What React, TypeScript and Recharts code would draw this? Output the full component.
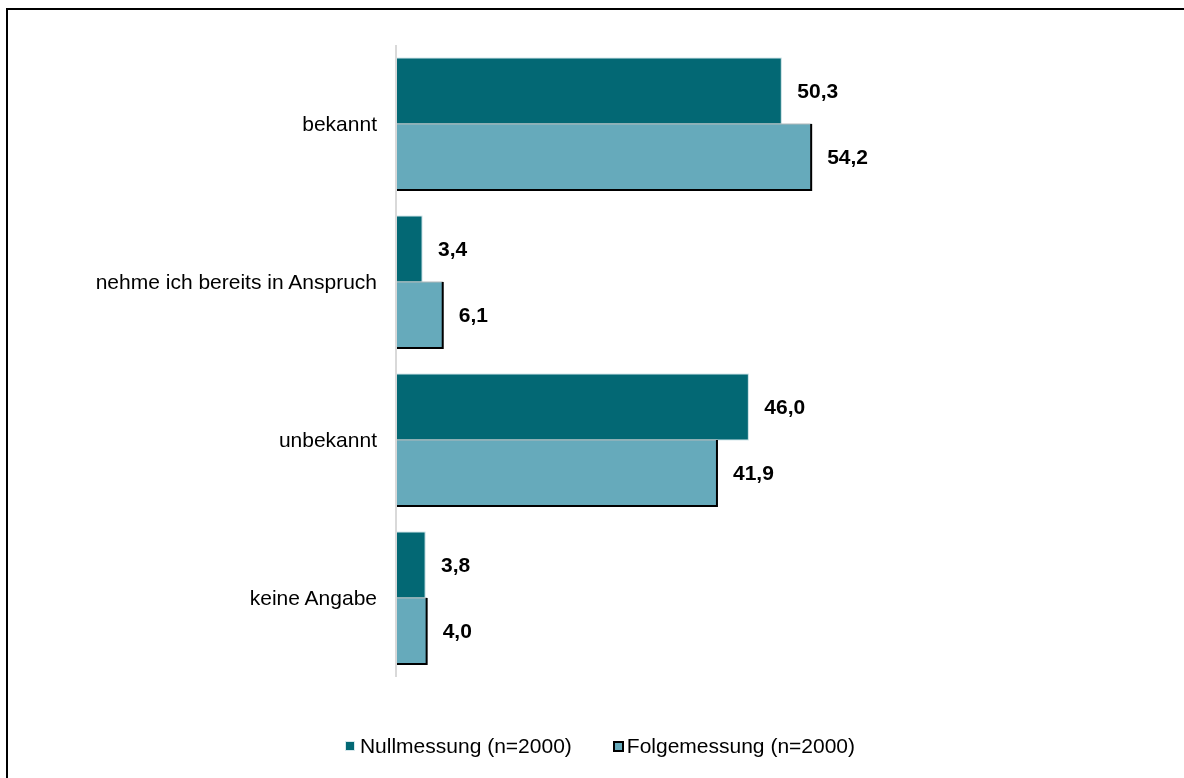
import { BarChart, Bar, XAxis, YAxis, Legend, LabelList } from 'recharts';

const categories = ['bekannt', 'nehme ich bereits in Anspruch', 'unbekannt', 'keine Angabe'];
const nullmessung = [50.3, 3.4, 46.0, 3.8];
const folgemessung = [54.2, 6.1, 41.9, 4.0];
const seriesNames = ['Nullmessung (n=2000)', 'Folgemessung (n=2000)'];

const data = categories.map((name, i) => ({ name, a: nullmessung[i], b: folgemessung[i] }));

const font = '"Liberation Sans", Arial, sans-serif';
const DARK = '#036874';
const LIGHT = '#66aabb';

const fmt = (v: any) => Number(v).toFixed(1).replace('.', ',');

const DarkBar = (p: any) => (
  <rect x={p.x} y={p.y} width={p.width} height={p.height} fill={DARK} stroke="#d6e8ec" strokeWidth={1} />
);

const LightBar = (p: any) => {
  const { x, y, width, height } = p;
  return (
    <g>
      <rect x={x} y={y} width={width} height={height} fill={LIGHT} stroke="#b0b8ba" strokeWidth={1} />
      <path d={`M${x + width},${y} V${y + height} H${x}`} stroke="#000" strokeWidth={2} fill="none" />
    </g>
  );
};

const LegendContent = () => (
  <div style={{ display: 'flex', justifyContent: 'center', alignItems: 'center', fontFamily: font, fontSize: 21, color: '#000', paddingLeft: 8 }}>
    <span style={{ display: 'inline-block', width: 8, height: 8, background: DARK, border: '1px solid #d6e8ec', marginRight: 5 }} />
    <span>{seriesNames[0]}</span>
    <span style={{ display: 'inline-block', width: 7, height: 7, background: LIGHT, border: '2px solid #000', marginLeft: 41, marginRight: 3 }} />
    <span>{seriesNames[1]}</span>
  </div>
);

export default function App() {
  return (
    <div style={{ width: 1176, height: 762, position: 'relative' }}>
      <div style={{ position: 'fixed', left: 6, top: 8, right: -20, bottom: -20, border: '2px solid #000', pointerEvents: 'none' }} />
      <BarChart
        width={1176}
        height={762}
        data={data}
        layout="vertical"
        margin={{ top: 37, right: 22, left: 0, bottom: 93 }}
        barGap={0}
      >
        <XAxis type="number" domain={[0, 100]} hide />
        <YAxis
          type="category"
          dataKey="name"
          width={388}
          axisLine={{ stroke: '#d9d9d9', strokeWidth: 2 }}
          tickLine={false}
          tickSize={0}
          tickMargin={19}
          tick={{ fontSize: 21, fill: '#000', fontFamily: font }}
        />
        <Legend
          verticalAlign="middle"
          align="center"
          wrapperStyle={{ top: 726, left: 0, width: 1176 }}
          content={<LegendContent />}
        />
        <Bar dataKey="a" name={seriesNames[0]} barSize={66} shape={<DarkBar />} isAnimationActive={false}>
          <LabelList dataKey="a" position="right" offset={16} formatter={fmt} style={{ fontSize: 21, fontWeight: 'bold', fill: '#000', fontFamily: font }} />
        </Bar>
        <Bar dataKey="b" name={seriesNames[1]} barSize={66} shape={<LightBar />} isAnimationActive={false}>
          <LabelList dataKey="b" position="right" offset={16} formatter={fmt} style={{ fontSize: 21, fontWeight: 'bold', fill: '#000', fontFamily: font }} />
        </Bar>
      </BarChart>
    </div>
  );
}
